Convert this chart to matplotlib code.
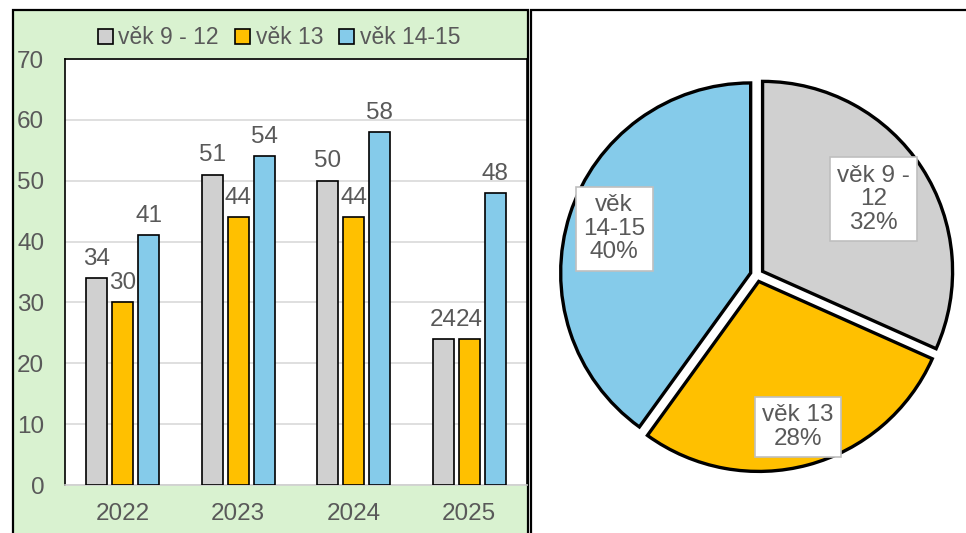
import numpy as np
import matplotlib
matplotlib.use("Agg")
import matplotlib.pyplot as plt
from matplotlib.patches import Rectangle, Patch

plt.rcParams['font.family'] = ['Liberation Sans', 'DejaVu Sans']

# data
years = ['2022', '2023', '2024', '2025']
groups = ['věk 9 - 12', 'věk 13', 'věk 14-15']
age_9_12 = [34, 51, 50, 24]
age_13 = [30, 44, 44, 24]
age_14_15 = [41, 54, 58, 48]
pie_labels = ['věk 9 -\n12', 'věk 13', 'věk\n14-15']

colors = ['#D0D0D0', '#FFC000', '#85CBEA']
txt = '#595959'
W, H = 966, 533

fig = plt.figure(figsize=(W / 100, H / 100), dpi=100)

def px_rect(x0, y0, x1, y1):
    # pixel box (top-left origin) -> figure fraction rect
    return [x0 / W, 1 - y1 / H, (x1 - x0) / W, (y1 - y0) / H]

# panel backgrounds
r = px_rect(13, 10, 528, 545)
fig.patches.append(Rectangle((r[0], r[1]), r[2], r[3], transform=fig.transFigure,
                             facecolor='#D9F2D0', edgecolor='black', lw=1.6, zorder=-5))
r = px_rect(531, 10, 980, 545)
fig.patches.append(Rectangle((r[0], r[1]), r[2], r[3], transform=fig.transFigure,
                             facecolor='white', edgecolor='black', lw=1.6, zorder=-5))

# bar chart
ax = fig.add_axes(px_rect(65, 59, 527, 485))
x = np.arange(len(years))
w = 0.18
step = 0.225
for i, (vals, name) in enumerate(zip([age_9_12, age_13, age_14_15], groups)):
    bars = ax.bar(x + (i - 1) * step, vals, w, color=colors[i], edgecolor='black',
                  lw=1.2, label=name, zorder=3)
    ax.bar_label(bars, padding=6, fontsize=17.5, color=txt)

ax.set_xlim(-0.5, len(years) - 0.5)
ax.set_ylim(0, 70)
ax.set_yticks(range(0, 71, 10))
ax.set_xticks(x)
ax.set_xticklabels(years)
ax.tick_params(length=0, labelsize=17.5, labelcolor=txt)
ax.tick_params(axis='y', pad=15)
ax.tick_params(axis='x', pad=13)
ax.grid(axis='y', color='#D9D9D9', lw=1.2, zorder=0)
for s in ['top', 'left', 'right']:
    ax.spines[s].set_color('black')
    ax.spines[s].set_linewidth(1.2)
ax.spines['bottom'].set_color('#D0D0D0')
ax.spines['bottom'].set_linewidth(1.2)

handles = [Patch(facecolor=c, edgecolor='black', lw=1.2) for c in colors]
fig.legend(handles, groups, loc='center', bbox_to_anchor=(279 / W, 1 - 38 / H),
           ncol=3, frameon=False, fontsize=16.5, labelcolor=txt,
           handlelength=0.65, handleheight=0.65, handletextpad=0.25, columnspacing=0.7)

# pie chart of totals
totals = [sum(age_9_12), sum(age_13), sum(age_14_15)]
pa = fig.add_axes(px_rect(757 - 209, 275 - 209, 757 + 209, 275 + 209))
wedges, _ = pa.pie(totals, colors=colors, startangle=90, counterclock=False,
                   explode=[0.035] * 3, radius=1,
                   wedgeprops=dict(edgecolor='black', lw=2.4))
pa.set_xlim(-1.1, 1.1)
pa.set_ylim(-1.1, 1.1)
pa.set_aspect('equal')
pa.axis('off')

label_r = [0.73, 0.83, 0.79]
tot = sum(totals)
for wd, lab, v, rr in zip(wedges, pie_labels, totals, label_r):
    ang = np.deg2rad((wd.theta1 + wd.theta2) / 2)
    pa.text(rr * np.cos(ang), rr * np.sin(ang), f'{lab}\n{round(100 * v / tot)}%',
            ha='center', va='center', fontsize=17.5, color=txt, linespacing=1.1,
            bbox=dict(boxstyle='square,pad=0.3', facecolor='white',
                      edgecolor='#BFBFBF', lw=1.2))

fig.savefig('out.png', dpi=100)
